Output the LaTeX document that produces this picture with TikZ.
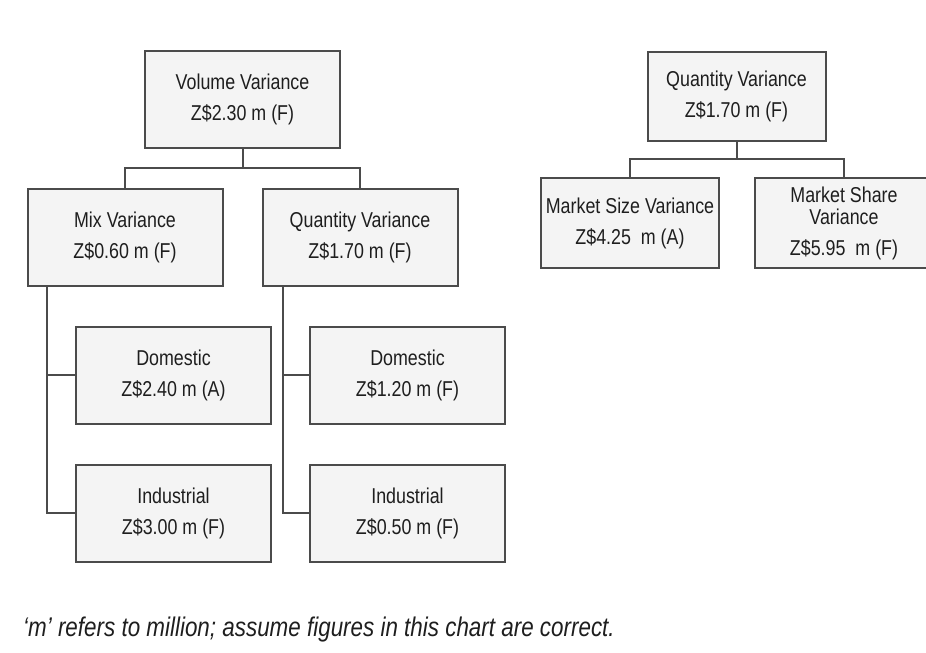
\documentclass[tikz,border=0pt]{standalone}
\usepackage{fontspec}
\setmainfont{Liberation Sans}[FakeStretch=0.83]
\usepackage{xcolor}
\definecolor{boxgray}{RGB}{244,244,244}
\definecolor{linegray}{RGB}{75,75,75}
\definecolor{textgray}{RGB}{30,30,30}
\usetikzlibrary{positioning}

\begin{document}
\begin{tikzpicture}[x=1pt, y=-1pt,
  box/.style={rectangle, draw=linegray, fill=boxgray, line width=2pt, outer sep=0pt, inner sep=2pt, minimum width=195pt, minimum height=97pt, align=center, font=\fontsize{21.5}{31}\selectfont, text=textgray},
  smallbox/.style={box, minimum width=178pt, minimum height=90pt},
  link/.style={draw=linegray, line width=2pt}
]
\useasboundingbox (0,0) rectangle (926,653);
\clip (0,0) rectangle (926,653);

% left chart
\node[box] (vol) at (242.5,99) {Volume Variance\\Z\$2.30 m (F)};
\node[box] (mix) at (125,237) {Mix Variance\\Z\$0.60 m (F)};
\node[box, right=40pt of mix] (qty) {Quantity Variance\\Z\$1.70 m (F)};
\node[box] (dom1) at (173.5,375) {Domestic\\Z\$2.40 m (A)};
\node[box, below=41pt of dom1] (ind1) {Industrial\\Z\$3.00 m (F)};
\node[box, right=39pt of dom1] (dom2) {Domestic\\Z\$1.20 m (F)};
\node[box, below=41pt of dom2] (ind2) {Industrial\\Z\$0.50 m (F)};

\draw[link] (vol.south) -- ++(0,20) coordinate (volj) -| (mix.north);
\draw[link] (volj) -| (qty.north);
\draw[link] ([xshift=19pt]mix.south west) |- (dom1.west);
\draw[link] ([xshift=19pt]mix.south west) |- (ind1.west);
\draw[link] ([xshift=20pt]qty.south west) |- (dom2.west);
\draw[link] ([xshift=20pt]qty.south west) |- (ind2.west);

% right chart
\node[smallbox, minimum height=89pt] (qtyr) at (736.5,96.5) {Quantity Variance\\Z\$1.70 m (F)};
\node[smallbox] (msize) at (630,223) {Market Size Variance\\Z\$4.25~ m (A)};
\node[smallbox, right=36pt of msize] (mshare) {Market Share\\[-9pt]Variance\\Z\$5.95~ m (F)};

\draw[link] (qtyr.south) -- ++(0,18) coordinate (qj) -| (msize.north);
\draw[link] (qj) -| (mshare.north);

\node[anchor=west, inner sep=0pt, text=textgray, font=\fontsize{27}{30}\selectfont\itshape] (note) at (23,630) {`m' refers to million; assume figures in this chart are correct.};
\end{tikzpicture}
\end{document}
